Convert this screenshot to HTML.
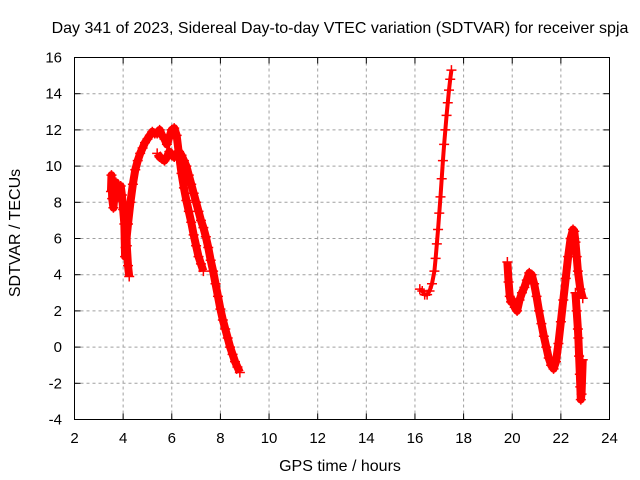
<!DOCTYPE html>
<html><head><meta charset="utf-8"><style>
body{margin:0;background:#fff;}
svg{display:block;font-family:"Liberation Sans",sans-serif;}
</style></head><body>
<svg id="chart" width="640" height="480">
<text x="340" y="33" text-anchor="middle" font-size="16">Day 341 of 2023, Sidereal Day-to-day VTEC variation (SDTVAR) for receiver spja</text>
<g id="grid"></g>
<g id="ticks"></g>
<g id="series"></g>
<rect x="74.5" y="57.5" width="535" height="362" fill="none" stroke="#000" stroke-width="1"/>
<text x="340" y="471" text-anchor="middle" font-size="16">GPS time / hours</text>
<text x="0" y="0" transform="translate(20,233) rotate(-90)" text-anchor="middle" font-size="16">SDTVAR / TECUs</text>
</svg>
<script>
const xTicks=[2,4,6,8,10,12,14,16,18,20,22,24];
const yTicks=[-4,-2,0,2,4,6,8,10,12,14,16];
const seg1X=[3.5,3.52,3.55,3.6,3.65,3.7,3.75,3.8,3.85,3.9,3.95,4.0,4.05,4.08,4.1,4.12,4.15,4.2,4.25];
const seg1Y=[8.6,9.5,8.2,7.7,8.5,9.1,8.8,8.3,8.6,8.9,8.4,7.6,6.8,5.0,6.0,7.2,5.6,4.5,3.9];
const seg2X=[4.1,4.2,4.3,4.4,4.5,4.6,4.7,4.8,4.9,5.0,5.1,5.2,5.3,5.4,5.5,5.6,5.7,5.8,5.9,6.0,6.1,6.2,6.3,6.4,6.5,6.6,6.7,6.8,6.9,7.0,7.1,7.2,7.3];
const seg2Y=[5.5,6.8,8.0,9.0,9.8,10.3,10.7,11.0,11.3,11.5,11.7,11.9,11.8,11.8,12.0,11.7,11.5,11.2,11.6,12.0,12.1,11.7,10.6,9.6,8.8,8.1,7.5,6.9,6.2,5.6,5.0,4.6,4.2];
const seg3X=[5.4,5.5,5.6,5.7,5.8,5.9,6.0,6.1,6.2,6.3,6.4,6.5,6.6,6.7,6.8,6.9,7.0,7.1,7.2,7.3,7.4,7.5,7.6,7.7,7.8,7.9,8.0,8.1,8.2,8.3,8.4,8.5,8.6,8.7,8.8];
const seg3Y=[10.7,10.5,10.4,10.3,10.5,10.8,10.6,10.5,10.7,10.8,10.6,10.3,10.0,9.5,9.0,8.5,8.0,7.5,7.0,6.6,6.1,5.5,4.8,4.2,3.5,2.8,2.1,1.5,1.0,0.5,0.0,-0.4,-0.8,-1.1,-1.4];
const seg4X=[16.2,16.3,16.4,16.5,16.6,16.7,16.8,16.85,16.9,16.95,17.0,17.05,17.1,17.15,17.2,17.25,17.3,17.35,17.4,17.45,17.5];
const seg4Y=[3.2,3.1,2.9,2.9,3.1,3.5,4.2,4.9,5.7,6.5,7.4,8.3,9.3,10.3,11.2,12.0,12.8,13.5,14.2,14.8,15.3];
const seg5X=[19.8,19.85,19.9,19.95,20.0,20.1,20.2,20.3,20.4,20.5,20.6,20.7,20.8,20.9,21.0,21.1,21.2,21.3,21.4,21.5,21.6,21.7,21.8,21.9,22.0,22.1,22.2,22.3,22.4,22.5,22.55,22.6,22.65,22.7,22.8,22.9];
const seg5Y=[4.7,3.6,2.8,2.5,2.6,2.2,2.0,2.6,3.0,3.3,3.7,4.1,4.0,3.5,2.8,2.0,1.3,0.6,0.0,-0.6,-1.0,-1.2,-0.8,0.2,1.4,2.6,3.8,5.0,6.0,6.5,6.4,5.8,5.0,4.2,3.2,2.7];
const seg6X=[22.6,22.65,22.7,22.72,22.75,22.78,22.8,22.82,22.85,22.9];
const seg6Y=[3.0,2.0,1.0,0.5,-0.5,-1.5,-2.2,-2.9,-2.6,-0.7];

const X0=74.5,X1=609.5,Y0=419.5,Y1=57.5;
const sx=v=>X0+(v-2)/22*(X1-X0);
const sy=v=>Y0-(v+4)/20*(Y0-Y1);
const NS="http://www.w3.org/2000/svg";
const grid=document.getElementById('grid'),ticks=document.getElementById('ticks'),ser=document.getElementById('series');
function mk(tag,attrs,parent){const e=document.createElementNS(NS,tag);for(const k in attrs)e.setAttribute(k,attrs[k]);parent.appendChild(e);return e;}
xTicks.forEach(t=>{const x=sx(t);
 if(t>2&&t<24){const g=mk('line',{x1:x,x2:x,y1:Y0,y2:Y1,stroke:'#a0a0a0','stroke-dasharray':'3,3'},grid);
 
 }
 mk('line',{x1:x,x2:x,y1:Y0,y2:Y0-6,stroke:'#000'},ticks);mk('line',{x1:x,x2:x,y1:Y1,y2:Y1+6,stroke:'#000'},ticks);
 const l=mk('text',{x:x,y:443,'text-anchor':'middle','font-size':'15'},ticks);l.textContent=t;
 
 });
yTicks.forEach(t=>{const y=sy(t);
 if(t>-4&&t<16){const g=mk('line',{x1:X0,x2:X1,y1:y,y2:y,stroke:'#a0a0a0','stroke-dasharray':'3,3'},grid);
 
 }
 mk('line',{x1:X0,x2:X0+6,y1:y,y2:y,stroke:'#000'},ticks);mk('line',{x1:X1,x2:X1-6,y1:y,y2:y,stroke:'#000'},ticks);
 const l=mk('text',{x:62,y:y+5,'text-anchor':'end','font-size':'15'},ticks);l.textContent=t;
 
 });
[[seg1X,seg1Y],[seg2X,seg2Y],[seg3X,seg3Y],[seg4X,seg4Y],[seg5X,seg5Y],[seg6X,seg6Y]].forEach(([xs,ys],si)=>{
 const pts=xs.map((x,i)=>sx(x)+','+sy(ys[i])).join(' ');
 const pl=mk('polyline',{points:pts,fill:'none',stroke:'#f00','stroke-width':si===3?4:8,'stroke-linejoin':'round'},ser);
 
 
 xs.forEach((x,i)=>{const px=sx(x),py=sy(ys[i]);
  const p=mk('path',{d:`M${px-5},${py}h10M${px},${py-5}v10`,stroke:'#f00','stroke-width':1.5},ser);
  
  });
});
</script>
</body></html>
